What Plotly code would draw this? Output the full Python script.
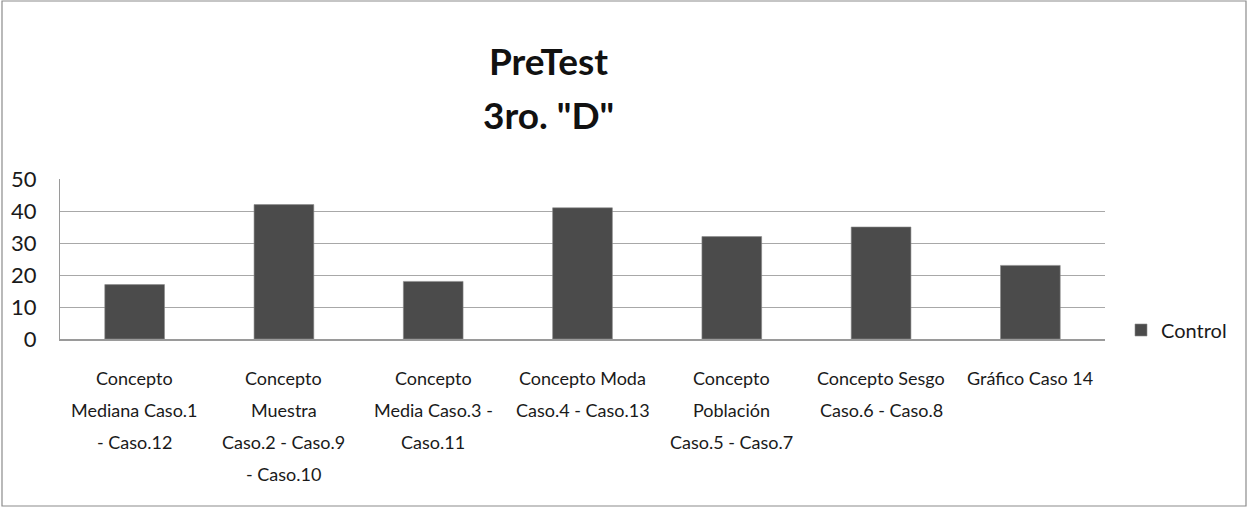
import plotly.graph_objects as go

# Chart data
categories = [
    "Concepto Mediana Caso.1 - Caso.12",
    "Concepto Muestra Caso.2 - Caso.9 - Caso.10",
    "Concepto Media Caso.3 - Caso.11",
    "Concepto Moda Caso.4 - Caso.13",
    "Concepto Población Caso.5 - Caso.7",
    "Concepto Sesgo Caso.6 - Caso.8",
    "Gráfico Caso 14",
]
label_lines = [
    ["Concepto", "Mediana Caso.1", "- Caso.12"],
    ["Concepto", "Muestra", "Caso.2 - Caso.9", "- Caso.10"],
    ["Concepto", "Media Caso.3 -", "Caso.11"],
    ["Concepto Moda", "Caso.4 - Caso.13"],
    ["Concepto", "Población", "Caso.5 - Caso.7"],
    ["Concepto Sesgo", "Caso.6 - Caso.8"],
    ["Gráfico Caso 14"],
]
control = [17, 42, 18, 41, 32, 35, 23]
y_ticks = [0, 10, 20, 30, 40, 50]
series_name = "Control"
title_lines = ["PreTest", '3ro. "D"']

FONT = "Lato, Open Sans, sans-serif"
W, H = 1249, 508
ML, MR, MT, MB = 60, 144, 179, 169
PW = W - ML - MR
PH = H - MT - MB


def px_x(x):
    """Figure pixel column -> paper x."""
    return (x - ML) / PW


def px_y(y):
    """Figure pixel row (from top) -> paper y."""
    return (H - MB - y) / PH


fig = go.Figure()
fig.add_trace(go.Bar(
    x=categories, y=control, name=series_name,
    marker=dict(color="#4b4b4b", line=dict(color="#8a8a8a", width=0.6)),
    showlegend=True,
))

annotations = []
# Multi-line category labels under the axis
for cat, lines in zip(categories, label_lines):
    for i, line in enumerate(lines):
        annotations.append(dict(
            x=cat, y=0, xref="x", yref="y", text=line, showarrow=False,
            yanchor="middle", xanchor="center", yshift=-(39 + 32 * i),
            font=dict(family=FONT, size=18, color="#1a1a1a"),
        ))

# Two-line bold title
for i, line in enumerate(title_lines):
    annotations.append(dict(
        x=px_x(548), y=px_y(60 + 54 * i), xref="paper", yref="paper",
        text="<b>%s</b>" % line, showarrow=False,
        xanchor="center", yanchor="middle",
        font=dict(family=FONT, size=37, color="#111111"),
    ))

fig.update_layout(
    width=W, height=H,
    margin=dict(l=ML, r=MR, t=MT, b=MB, pad=0, autoexpand=False),
    paper_bgcolor="white", plot_bgcolor="white",
    bargap=0.6,
    xaxis=dict(
        showticklabels=False, ticks="", showgrid=False,
        showline=True, linecolor="#9a9a9a", linewidth=1.5,
    ),
    yaxis=dict(
        range=[0, 50], tickvals=y_ticks, ticks="",
        showgrid=True, gridcolor="#a8a8a8", gridwidth=1.2,
        showline=True, linecolor="#9a9a9a", linewidth=1.2,
        zeroline=False,
        tickfont=dict(family=FONT, size=22, color="#1a1a1a"),
        ticklabelstandoff=18,
    ),
    legend=dict(
        x=px_x(1121), y=px_y(330),
        xanchor="left", yanchor="middle",
        font=dict(family=FONT, size=20, color="#1a1a1a"),
        itemwidth=30, bgcolor="rgba(0,0,0,0)",
    ),
    annotations=annotations,
    shapes=[dict(
        type="rect", xref="paper", yref="paper",
        x0=px_x(2), x1=px_x(1246),
        y0=px_y(506), y1=px_y(1),
        line=dict(color="#8c8c8c", width=1.2),
    )],
)

fig.write_html("out.html")
